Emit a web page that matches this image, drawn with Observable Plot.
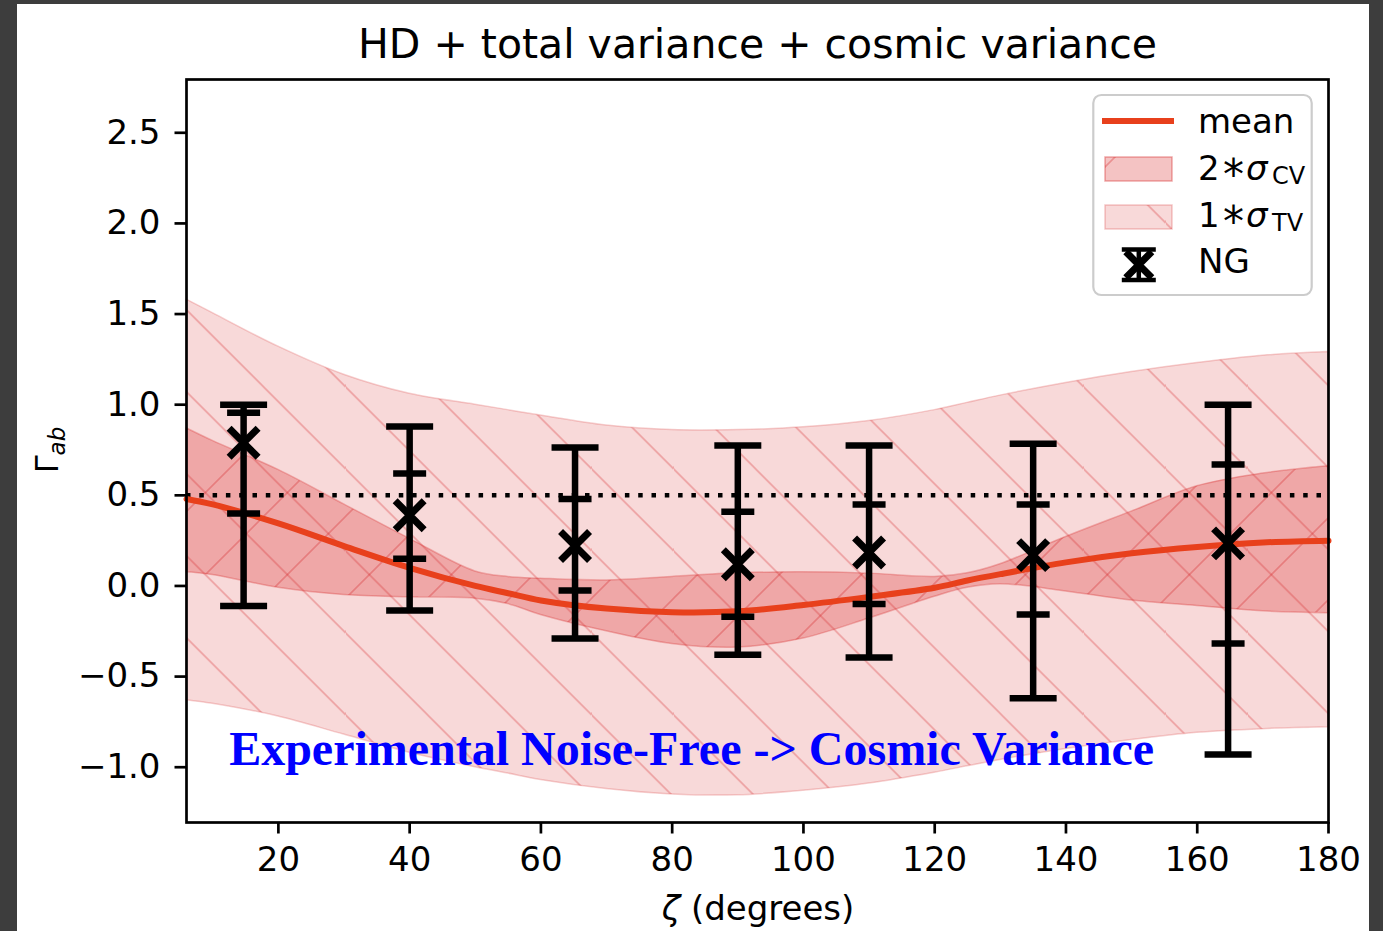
<!DOCTYPE html>
<html><head><meta charset="utf-8">
<script src="https://cdn.jsdelivr.net/npm/d3@7"></script>
<script src="https://cdn.jsdelivr.net/npm/@observablehq/plot@0.6"></script>
<style>
html,body{margin:0;padding:0;background:#3d3d3d;width:1383px;height:931px;overflow:hidden;}
#wrap{position:absolute;left:17px;top:4px;width:1352px;height:927px;background:#fff;}
svg{display:block;}
</style></head><body><div id="wrap"></div>
<script>
// ---- data ----
const zeta    = [6, 10, 20, 30, 40, 50, 55, 60, 70, 80, 90, 100, 110, 120, 125, 130, 140, 150, 160, 170, 180];
const meanHD  = [0.48, 0.45, 0.345, 0.22, 0.10, 0.00, -0.04, -0.08, -0.125, -0.145, -0.14, -0.105, -0.06, -0.01, 0.03, 0.065, 0.13, 0.18, 0.215, 0.24, 0.25];
const cvUpper = [0.87, 0.80, 0.64, 0.45, 0.26, 0.08, 0.05, 0.04, 0.03, 0.05, 0.07, 0.075, 0.068, 0.05, 0.07, 0.12, 0.27, 0.41, 0.55, 0.62, 0.66];
const cvLower = [0.075, 0.06, -0.01, -0.05, -0.063, -0.07, -0.10, -0.16, -0.25, -0.32, -0.34, -0.29, -0.18, -0.06, -0.01, 0.01, -0.03, -0.08, -0.11, -0.14, -0.15];
const tvUpper = [1.58, 1.505, 1.32, 1.165, 1.06, 1.0, 0.97, 0.94, 0.885, 0.86, 0.86, 0.875, 0.91, 0.97, 1.01, 1.05, 1.12, 1.18, 1.23, 1.27, 1.29];
const tvLower = [-0.63, -0.65, -0.72, -0.82, -0.92, -1.0, -1.035, -1.07, -1.12, -1.15, -1.155, -1.13, -1.09, -1.03, -0.995, -0.96, -0.9, -0.85, -0.81, -0.79, -0.78];

const ngZeta    = [14.7, 40, 65.2, 90, 110, 135, 164.7];
const ngValue   = [0.79, 0.39, 0.22, 0.12, 0.185, 0.17, 0.235];
const outerLow  = [-0.11, -0.135, -0.29, -0.38, -0.395, -0.62, -0.93];
const outerHigh = [1.0, 0.88, 0.764, 0.775, 0.775, 0.785, 1.0];
const innerLow  = [0.40, 0.15, -0.025, -0.17, -0.10, -0.157, -0.317];
const innerHigh = [0.955, 0.62, 0.48, 0.41, 0.45, 0.45, 0.67];

const refLine = [0.5];
const xTicks = [20, 40, 60, 80, 100, 120, 140, 160, 180];
const yTicks = [-1.0, -0.5, 0.0, 0.5, 1.0, 1.5, 2.0, 2.5];
const xDomain = [6, 180];
const yDomain = [-1.305, 2.794];
const titleText = "HD + total variance + cosmic variance";
const annotation = {x: 12.5, y: -0.99, text: "Experimental Noise-Free -> Cosmic Variance"};

// ---- tables ----
const rows = zeta.map((z, i) => ({z, mean: meanHD[i], cvLo: cvLower[i], cvHi: cvUpper[i], tvLo: tvLower[i], tvHi: tvUpper[i]}));
const ng = ngZeta.map((z, i) => ({z, v: ngValue[i], oLo: outerLow[i], oHi: outerHigh[i], iLo: innerLow[i], iHi: innerHigh[i]}));

const BAND = "#d62728";
const MEAN = "#e8401c";
const cap = w => ({draw(ctx) { ctx.moveTo(-w, 0); ctx.lineTo(w, 0); }});
const cross = a => ({draw(ctx) { ctx.moveTo(-a, -a); ctx.lineTo(a, a); ctx.moveTo(-a, a); ctx.lineTo(a, -a); }});

const W = 1352, H = 927;
const chart = Plot.plot({
  width: W, height: H,
  marginLeft: 169, marginRight: 41, marginTop: 75, marginBottom: 109,
  style: {fontFamily: "DejaVu Sans", color: "black", background: "white", overflow: "visible"},
  x: {domain: xDomain},
  y: {domain: yDomain},
  marks: [
    Plot.areaY(rows, {x: "z", y1: "tvLo", y2: "tvHi", curve: "catmull-rom", fill: BAND, fillOpacity: 0.175, stroke: BAND, strokeOpacity: 0.22, strokeWidth: 1.5}),
    Plot.areaY(rows, {x: "z", y1: "cvLo", y2: "cvHi", curve: "catmull-rom", fill: BAND, fillOpacity: 0.28, stroke: BAND, strokeOpacity: 0.3, strokeWidth: 1.5}),
    Plot.areaY(rows, {x: "z", y1: "tvLo", y2: "tvHi", curve: "catmull-rom", fill: "#010101"}),
    Plot.areaY(rows, {x: "z", y1: "cvLo", y2: "cvHi", curve: "catmull-rom", fill: "#020202"}),
    Plot.ruleY(refLine, {stroke: "black", strokeWidth: 4.5, strokeDasharray: "4.5,8.8"}),
    Plot.line(rows, {x: "z", y: "mean", curve: "catmull-rom", stroke: MEAN, strokeWidth: 6}),
    Plot.ruleX(ng, {x: "z", y1: "oLo", y2: "oHi", stroke: "black", strokeWidth: 6.5}),
    Plot.dot(ng, {x: "z", y: "oLo", symbol: cap(23.5), fill: "none", stroke: "black", strokeWidth: 6.5}),
    Plot.dot(ng, {x: "z", y: "oHi", symbol: cap(23.5), fill: "none", stroke: "black", strokeWidth: 6.5}),
    Plot.dot(ng, {x: "z", y: "iLo", symbol: cap(16.5), fill: "none", stroke: "black", strokeWidth: 6.5}),
    Plot.dot(ng, {x: "z", y: "iHi", symbol: cap(16.5), fill: "none", stroke: "black", strokeWidth: 6.5}),
    Plot.dot(ng, {x: "z", y: "v", symbol: cross(14.5), fill: "none", stroke: "black", strokeWidth: 7}),
    Plot.text([annotation], {x: "x", y: "y", text: "text", textAnchor: "start", lineAnchor: "bottom", fill: "#0000ff", fontSize: 48, fontWeight: "bold", fontFamily: "Liberation Serif"}),
    Plot.axisX({ticks: xTicks, tickSize: 11.5, tickPadding: 13, fontSize: 34, strokeWidth: 2.7, label: null, tickFormat: d => String(d)}),
    Plot.axisY({ticks: yTicks, tickSize: 11.5, tickPadding: 14.5, fontSize: 34, strokeWidth: 2.7, label: null, tickFormat: d => d.toFixed(1).replace("-", "\u2212")}),
    Plot.frame({stroke: "black", strokeWidth: 2.7})
  ]
});
document.getElementById("wrap").appendChild(chart);

// ---- hatch patterns (aligned in screen space) ----
const svg = d3.select(chart);
const defs = svg.insert("defs", ":first-child");
function hatch(id, d, ty) {
  const p = defs.append("pattern").attr("id", id).attr("patternUnits", "userSpaceOnUse")
    .attr("width", 82).attr("height", 82).attr("patternTransform", `translate(0,${ty})`);
  p.append("path").attr("d", d).attr("fill", "none").attr("stroke", BAND).attr("stroke-opacity", 0.32).attr("stroke-width", 1.6);
}
hatch("hTV", "M-10,-10L92,92M72,-10L92,10M-10,72L10,92", 54.3);
hatch("hCV", "M-10,92L92,-10M-10,10L10,-10M72,92L92,72", 21);
svg.selectAll('[fill="#010101"]').attr("fill", "url(#hTV)");
svg.selectAll('[fill="#020202"]').attr("fill", "url(#hCV)");

// ---- title and axis labels ----
svg.append("text").attr("x", 740.5).attr("y", 54).attr("text-anchor", "middle")
  .attr("font-family", "DejaVu Sans").attr("font-size", 41).attr("fill", "black").text(titleText);
const xl = svg.append("text").attr("x", 741).attr("y", 916).attr("text-anchor", "middle")
  .attr("font-family", "DejaVu Sans").attr("font-size", 34).attr("fill", "black");
xl.append("tspan").attr("font-style", "italic").text("ζ");
xl.append("tspan").text(" (degrees)");
const yl = svg.append("text").attr("transform", "translate(41,446) rotate(-90)").attr("text-anchor", "middle")
  .attr("font-family", "DejaVu Sans").attr("fill", "black");
yl.append("tspan").attr("font-size", 32).text("Γ");
yl.append("tspan").attr("font-size", 23).attr("font-style", "italic").attr("dy", 7).text("ab");

// ---- legend ----
const lg = svg.append("g").attr("font-family", "DejaVu Sans").attr("font-size", 34).attr("fill", "black").attr("text-anchor", "start");
lg.append("rect").attr("x", 1076.3).attr("y", 91).attr("width", 218.4).attr("height", 200).attr("rx", 8)
  .attr("fill", "white").attr("fill-opacity", 0.8).attr("stroke", "#cccccc").attr("stroke-width", 2.2);
lg.append("line").attr("x1", 1085).attr("x2", 1157).attr("y1", 117).attr("y2", 117).attr("stroke", MEAN).attr("stroke-width", 6);
lg.append("text").attr("x", 1181).attr("y", 129).text("mean");
// CV patch
lg.append("rect").attr("x", 1088).attr("y", 153).attr("width", 67).attr("height", 24)
  .attr("fill", BAND).attr("fill-opacity", 0.28).attr("stroke", BAND).attr("stroke-opacity", 0.4).attr("stroke-width", 1.5);
lg.append("rect").attr("x", 1088).attr("y", 153).attr("width", 67).attr("height", 24).attr("fill", "url(#hCV)");
// TV patch
lg.append("rect").attr("x", 1088).attr("y", 201).attr("width", 67).attr("height", 24)
  .attr("fill", BAND).attr("fill-opacity", 0.175).attr("stroke", BAND).attr("stroke-opacity", 0.25).attr("stroke-width", 1.5);
lg.append("rect").attr("x", 1088).attr("y", 201).attr("width", 67).attr("height", 24).attr("fill", "url(#hTV)");
function sigmaLabel(num, sub, y) {
  const t = lg.append("text");
  t.append("tspan").attr("x", 1181).attr("y", y).text(num);
  t.append("tspan").attr("x", 1206).attr("y", y + 9).attr("font-size", 42).text("*");
  t.append("tspan").attr("x", 1229).attr("y", y).attr("font-style", "italic").text("σ");
  t.append("tspan").attr("x", 1255).attr("y", y + 4).attr("font-size", 24).text(sub);
}
sigmaLabel("2", "CV", 176);
sigmaLabel("1", "TV", 222.7);
// NG handle
const ngx = 1121.8, ngTop = 245.5, ngBot = 276;
const hg = lg.append("g").attr("stroke", "black").attr("fill", "none");
hg.append("line").attr("x1", ngx - 17).attr("x2", ngx + 17).attr("y1", ngTop).attr("y2", ngTop).attr("stroke-width", 4.5);
hg.append("line").attr("x1", ngx - 17).attr("x2", ngx + 17).attr("y1", ngBot).attr("y2", ngBot).attr("stroke-width", 4.5);
hg.append("line").attr("x1", ngx).attr("x2", ngx).attr("y1", ngTop).attr("y2", ngBot).attr("stroke-width", 4.5);
const cy = (ngTop + ngBot) / 2;
hg.append("path").attr("d", `M${ngx-13},${cy-13}L${ngx+13},${cy+13}M${ngx-13},${cy+13}L${ngx+13},${cy-13}`).attr("stroke-width", 7);
lg.append("text").attr("x", 1181).attr("y", 269.3).text("NG");
</script></body></html>
